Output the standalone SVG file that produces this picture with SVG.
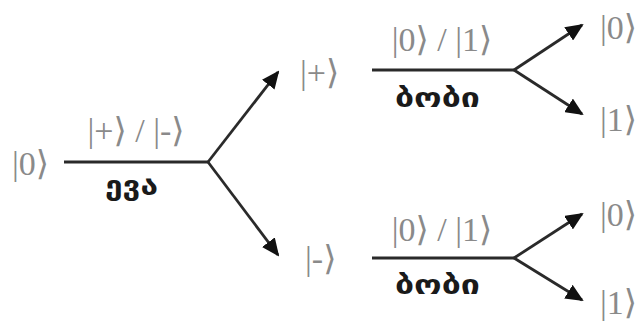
<svg xmlns="http://www.w3.org/2000/svg" width="640" height="323" viewBox="0 0 640 323">
<defs>
<marker id="ah" viewBox="0 0 18 16" refX="16" refY="8" markerWidth="18" markerHeight="16" markerUnits="userSpaceOnUse" orient="auto">
<path d="M0,0 L18,8 L0,16 z" fill="#111"/>
</marker>
<style>
.ket{font-family:"Liberation Serif","DejaVu Serif",serif;font-size:34px;fill:#8a8a8a}
.geo{font-family:"DejaVu Sans",sans-serif;font-size:27px;font-weight:bold;fill:#1a1a1a}
.ln{stroke:#2a2a2a;stroke-width:2.8;fill:none}
.ar{stroke:#2a2a2a;stroke-width:2.8;fill:none;marker-end:url(#ah)}
</style>
</defs>
<rect width="640" height="323" fill="#fff"/>
<g id="connectors">
<path class="ln" d="M64,162 H208"/>
<path class="ar" d="M208,162 L278,72"/>
<path class="ar" d="M208,162 L278,255"/>
<path class="ln" d="M372,70 H514"/>
<path class="ar" d="M514,70 L582,25"/>
<path class="ar" d="M514,70 L582,114"/>
<path class="ln" d="M372,258 H514"/>
<path class="ar" d="M514,258 L582,214"/>
<path class="ar" d="M514,258 L582,300"/>
</g>
<g id="start"><text class="ket" x="12" y="175">|0⟩</text></g>
<g id="eve-label"><text class="ket" x="136" y="142" text-anchor="middle">|+⟩ / |-⟩</text><text class="geo" x="105" y="195" textLength="53" lengthAdjust="spacingAndGlyphs">ევა</text></g>
<g id="plus"><text class="ket" x="300" y="84">|+⟩</text></g>
<g id="minus"><text class="ket" x="305" y="270">|-⟩</text></g>
<g id="bob-top"><text class="ket" x="442" y="51" text-anchor="middle">|0⟩ / |1⟩</text><text class="geo" x="395" y="107" textLength="85" lengthAdjust="spacingAndGlyphs">ბობი</text></g>
<g id="bob-bottom"><text class="ket" x="442" y="241" text-anchor="middle">|0⟩ / |1⟩</text><text class="geo" x="395" y="294" textLength="85" lengthAdjust="spacingAndGlyphs">ბობი</text></g>
<g id="out1"><text class="ket" x="600" y="39">|0⟩</text></g>
<g id="out2"><text class="ket" x="600" y="131">|1⟩</text></g>
<g id="out3"><text class="ket" x="600" y="226">|0⟩</text></g>
<g id="out4"><text class="ket" x="600" y="314">|1⟩</text></g>
</svg>
